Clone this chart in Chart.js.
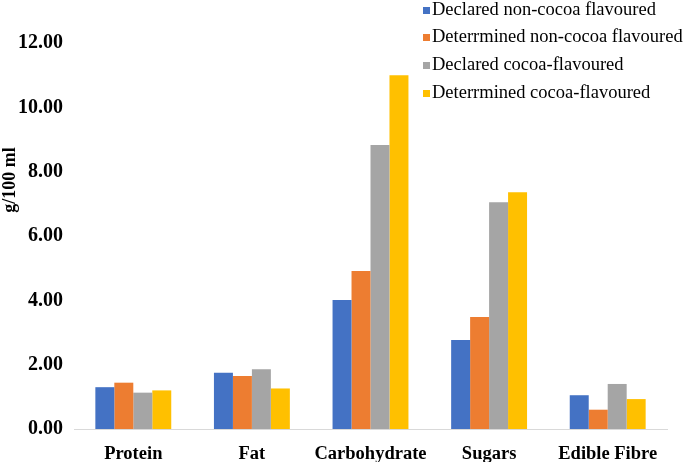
<!DOCTYPE html>
<html>
<head>
<meta charset="utf-8">
<script src="https://cdn.jsdelivr.net/npm/chart.js@4/dist/chart.umd.min.js"></script>
<style>
html,body{margin:0;padding:0;background:#fff;}
#wrap{position:relative;width:685px;height:462px;}
</style>
</head>
<body>
<div id="wrap">
<canvas id="c" width="685" height="462"></canvas>
</div>
<script>
const categories = ["Protein", "Fat", "Carbohydrate", "Sugars", "Edible Fibre"];
const seriesNames = ["Declared non-cocoa flavoured", "Deterrmined non-cocoa flavoured", "Declared cocoa-flavoured", "Deterrmined cocoa-flavoured"];
const declaredNonCocoa = [1.30, 1.75, 4.01, 2.77, 1.05];
const determinedNonCocoa = [1.44, 1.65, 4.91, 3.48, 0.60];
const declaredCocoa = [1.13, 1.86, 8.83, 7.05, 1.40];
const determinedCocoa = [1.20, 1.26, 11.00, 7.36, 0.93];
const yTicks = [0, 2, 4, 6, 8, 10, 12];
const colors = ["#4472C4", "#ED7D31", "#A5A5A5", "#FFC000"];
const yTitle = "g/100 ml";

const seriesValues = [declaredNonCocoa, determinedNonCocoa, declaredCocoa, determinedCocoa];
const datasets = seriesNames.map((n, i) => ({
  label: n,
  data: seriesValues[i],
  backgroundColor: colors[i],
  borderWidth: 0,
  categoryPercentage: 0.64,
  barPercentage: 1.0
}));

const overlay = {
  id: 'overlay',
  afterDraw(chart) {
    const ctx = chart.ctx;
    ctx.save();
    // legend
    ctx.font = '18.5px "Liberation Serif", serif';
    ctx.textBaseline = 'middle';
    ctx.textAlign = 'left';
    const rowY = [10, 37, 65, 93];
    chart.data.datasets.forEach((ds, i) => {
      ctx.fillStyle = ds.backgroundColor;
      ctx.fillRect(423, rowY[i] - 3, 7, 7);
      ctx.fillStyle = '#000';
      ctx.fillText(ds.label, 432, rowY[i]);
    });
    // y title
    ctx.translate(10, 180);
    ctx.rotate(-Math.PI / 2);
    ctx.textAlign = 'center';
    ctx.font = 'bold 18px "Liberation Serif", serif';
    ctx.fillText(yTitle, 0, 0);
    ctx.restore();
  }
};

new Chart(document.getElementById('c'), {
  type: 'bar',
  data: { labels: categories, datasets },
  plugins: [overlay],
  options: {
    responsive: false,
    animation: false,
    devicePixelRatio: 1,
    layout: { padding: { top: 43, right: 18, left: 0, bottom: 0 } },
    plugins: { legend: { display: false }, tooltip: { enabled: false } },
    scales: {
      x: {
        grid: { display: false },
        border: { display: true, color: '#D9D9D9', width: 1 },
        ticks: { color: '#000', padding: 6, font: { family: '"Liberation Serif", serif', weight: 'bold', size: 18.5 } },
        afterFit: (s) => { s.height = 33; }
      },
      y: {
        min: 0, max: 12,
        afterBuildTicks: (s) => { s.ticks = yTicks.map(v => ({ value: v })); },
        grid: { display: false, drawTicks: false },
        border: { display: false },
        ticks: {
          color: '#000', padding: 11,
          font: { family: '"Liberation Serif", serif', weight: 'bold', size: 20 },
          callback: (v) => Number(v).toFixed(2)
        },
        afterFit: (s) => { s.width = 74; }
      }
    }
  }
});
</script>
</body>
</html>
